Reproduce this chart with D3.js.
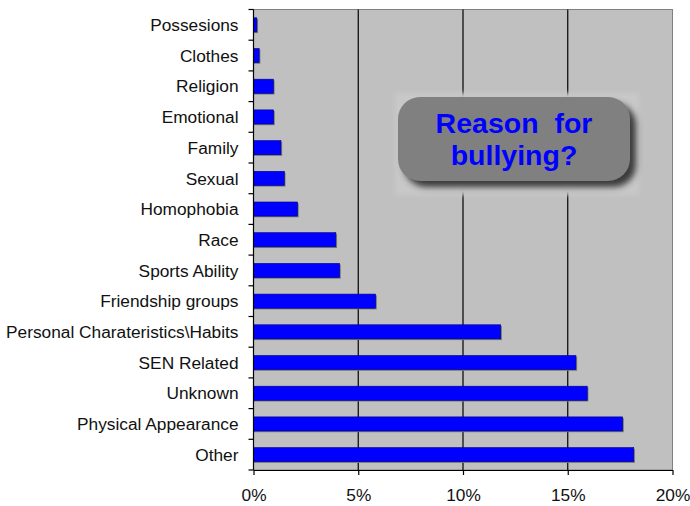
<!DOCTYPE html>
<html>
<head>
<meta charset="utf-8">
<script src="https://cdn.jsdelivr.net/npm/d3@7"></script>
<style>
  body { margin: 0; background: #fff; }
  text { font-family: "Liberation Sans", Arial, sans-serif; }
</style>
</head>
<body>
<div id="vis"></div>
<script>
// data (share of incidents)
const categories = ["Possesions", "Clothes", "Religion", "Emotional", "Family", "Sexual",
    "Homophobia", "Race", "Sports Ability", "Friendship groups",
    "Personal Charateristics\\Habits", "SEN Related", "Unknown", "Physical Appearance", "Other"];
const values = [0.0016, 0.0027, 0.0095, 0.0096, 0.0131, 0.0147,
    0.021, 0.0393, 0.0411, 0.0583,
    0.118, 0.1539, 0.1593, 0.1762, 0.1815];
const xTicks = [0, 0.05, 0.10, 0.15, 0.20];
const titleLines = ["Reason  for", "bullying?"];

var margin = {top: 9.5, right: 17.5, bottom: 36, left: 253.5},
    width = 690 - margin.left - margin.right,
    height = 506 - margin.top - margin.bottom;

var x = d3.scaleLinear().domain([0, 0.2]).range([0, width]);
var y = d3.scaleBand().domain(categories).range([0, height])
    .paddingInner(0.54).paddingOuter(0.27);

var root = d3.select("#vis").append("svg")
    .attr("width", 690)
    .attr("height", 506);

var defs = root.append("defs");
var blur = defs.append("filter").attr("id", "shadow")
    .attr("x", "-20%").attr("y", "-20%").attr("width", "140%").attr("height", "140%");
blur.append("feGaussianBlur").attr("stdDeviation", 3);
var soft = defs.append("filter").attr("id", "soft")
    .attr("x", "-20%").attr("y", "-20%").attr("width", "140%").attr("height", "140%");
soft.append("feGaussianBlur").attr("stdDeviation", 2);

var svg = root.append("g")
    .attr("transform", "translate(" + margin.left + "," + margin.top + ")");

// plot background
svg.append("rect")
    .attr("width", width)
    .attr("height", height)
    .attr("fill", "#c0c0c0")
    .attr("stroke", "#808080")
    .attr("stroke-width", 1);

// gridlines
svg.selectAll(".grid")
    .data(xTicks.filter(d => d > 0 && d < 0.2))
    .enter().append("line")
    .attr("x1", d => x(d)).attr("x2", d => x(d))
    .attr("y1", 0).attr("y2", height)
    .attr("stroke", "#000")
    .attr("stroke-width", 1.2);

// bars with a little grey shadow
svg.selectAll(".bar-shadow")
    .data(values)
    .enter().append("rect")
    .attr("x", 0)
    .attr("y", (d, i) => y(categories[i]) + 1.2)
    .attr("width", d => x(d) + 1.2)
    .attr("height", y.bandwidth())
    .attr("fill", "#7a7a7a");

svg.selectAll(".bar")
    .data(values)
    .enter().append("rect")
    .attr("x", 0)
    .attr("y", (d, i) => y(categories[i]))
    .attr("width", d => x(d))
    .attr("height", y.bandwidth())
    .attr("fill", "#0000ff")
    .attr("stroke", "#000080")
    .attr("stroke-width", 0.6);

// left axis: ticks sit between the categories
var step = y.step();
svg.append("line")
    .attr("x1", 0).attr("x2", 0).attr("y1", 0).attr("y2", height)
    .attr("stroke", "#000").attr("stroke-width", 1.2);
svg.selectAll(".ytick")
    .data(d3.range(categories.length + 1))
    .enter().append("line")
    .attr("x1", -5).attr("x2", 0)
    .attr("y1", i => i * step).attr("y2", i => i * step)
    .attr("stroke", "#000").attr("stroke-width", 1.2);
svg.selectAll(".ylabel")
    .data(categories)
    .enter().append("text")
    .attr("x", -15)
    .attr("y", d => y(d) + y.bandwidth() / 2)
    .attr("dy", "0.36em")
    .attr("text-anchor", "end")
    .attr("font-size", "17.3px")
    .attr("fill", "#111")
    .text(d => d);

// bottom axis
var xAxis = svg.append("g")
    .attr("transform", "translate(0," + height + ")")
    .call(d3.axisBottom(x).tickValues(xTicks).tickFormat(d3.format(".0%"))
        .tickSize(5).tickSizeOuter(0).tickPadding(14));
xAxis.select(".domain").attr("stroke", "#000").attr("stroke-width", 1.2);
xAxis.selectAll(".tick line").attr("stroke", "#000").attr("stroke-width", 1.2);
xAxis.selectAll(".tick text")
    .attr("font-family", "\"Liberation Sans\", Arial, sans-serif")
    .attr("font-size", "17.3px")
    .attr("fill", "#111");

// title callout
var box = {x: 398, y: 97, w: 232, h: 84, r: 22};
root.append("rect")
    .attr("x", box.x - 3).attr("y", box.y - 4)
    .attr("width", box.w + 12).attr("height", box.h + 18)
    .attr("fill", "#c8c8c8")
    .attr("filter", "url(#soft)");
root.append("rect")
    .attr("x", box.x + 6).attr("y", box.y + 6)
    .attr("width", box.w).attr("height", box.h)
    .attr("rx", box.r)
    .attr("fill", "#3a3a3a")
    .attr("filter", "url(#shadow)");
root.append("rect")
    .attr("x", box.x).attr("y", box.y)
    .attr("width", box.w).attr("height", box.h)
    .attr("rx", box.r)
    .attr("fill", "#808080");
root.selectAll(".title")
    .data(titleLines)
    .enter().append("text")
    .attr("x", box.x + box.w / 2)
    .attr("y", (d, i) => 133 + i * 32)
    .attr("text-anchor", "middle")
    .attr("font-size", "28.5px")
    .attr("font-weight", "bold")
    .attr("fill", "#0000ff")
    .style("white-space", "pre")
    .text(d => d);
</script>
</body>
</html>
